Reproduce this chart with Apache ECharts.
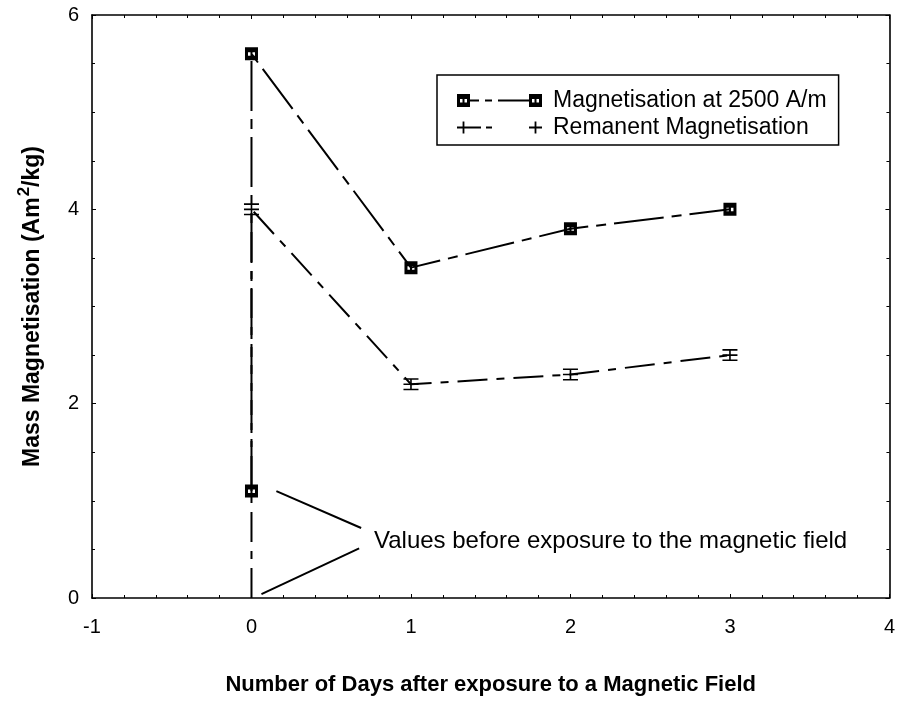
<!DOCTYPE html>
<html>
<head>
<meta charset="utf-8">
<script src="https://cdn.jsdelivr.net/npm/echarts@6/dist/echarts.min.js"></script>
<style>
  html, body { margin: 0; padding: 0; background: #fff; }
  #chart { width: 898px; height: 702px; }
</style>
</head>
<body>
<div id="chart"></div>
<script>
// Days after exposure; the first entry of each series is the value measured before exposure.
const days = [0, 0, 1, 2, 3];
const magAt2500 = [1.1, 5.6, 3.4, 3.8, 4.0];
const remanent = [0.0, 4.0, 2.2, 2.3, 2.5];

const xTicks = { min: -1, max: 4, interval: 1 };
const yTicks = { min: 0, max: 6, interval: 2 };

const magName = 'Magnetisation at 2500 A/m';
const remName = 'Remanent Magnetisation';
const noteText = 'Values before exposure to the magnetic field';

const FONT = '"Liberation Sans", Arial, Helvetica, sans-serif';

// Filled square with two small punched holes
const squareMark = 'path://M0,0H13V13H0Z M3,5V8.5H5.5V5Z M7.5,5V8.5H10V5Z';
// Plus sign with short error-bar caps above and below
const plusMark = 'path://M0,0H15V1.6H0Z M0,5.2H15V6.8H0Z M0,10.4H15V12H0Z M6.7,0H8.3V12H6.7Z';

// Legend keys: marker - dashes - marker
const magKey = 'path://M0,0H13V13H0Z M3,5V8.5H5.5V5Z M7.5,5V8.5H10V5Z ' +
  'M13,5.6H22V7.4H13Z M28,5.6H35V7.4H28Z M41,5.6H72V7.4H41Z ' +
  'M72,0H85V13H72Z M75,5V8.5H77.5V5Z M79.5,5V8.5H82V5Z';
const remKey = 'path://M0,5.6H24V7.4H0Z M5.6,0.5H7.4V12.5H5.6Z M29,5.6H35V7.4H29Z ' +
  'M72,5.6H85V7.4H72Z M77.6,0.5H79.4V12.5H77.6Z';

function pts(xs, ys) {
  return xs.map((x, i) => [x, ys[i]]);
}

const magData = pts(days, magAt2500);
const remData = pts(days, remanent).map((p, i) =>
  i === 0 ? { value: p, symbol: 'none' } : { value: p });

const axisCommon = {
  axisLine: { show: true, onZero: false, lineStyle: { color: '#000', width: 1.6 } },
  axisTick: { show: true, inside: true, length: 4, lineStyle: { color: '#000', width: 1 } },
  minorTick: { show: true, length: 3, lineStyle: { color: '#000', width: 1 } },
  splitLine: { show: false },
  minorSplitLine: { show: false }
};

const chart = echarts.init(document.getElementById('chart'), null, { renderer: 'canvas' });

chart.setOption({
  backgroundColor: '#fff',
  animation: false,
  textStyle: { fontFamily: FONT, color: '#000' },
  grid: { left: 92, right: 7, top: 15, bottom: 104, containLabel: false },
  legend: {
    orient: 'vertical',
    left: 437,
    top: 75,
    padding: [14, 12, 6, 20],
    itemGap: 4,
    itemWidth: 85,
    itemHeight: 13,
    borderColor: '#000',
    borderWidth: 1.5,
    backgroundColor: '#fff',
    textStyle: { fontSize: 23, color: '#000', fontFamily: FONT, padding: [0, 0, 0, 6] },
    itemStyle: { color: '#000', borderWidth: 0 },
    lineStyle: { opacity: 0 },
    data: [
      { name: magName, icon: magKey },
      { name: remName, icon: remKey }
    ]
  },
  xAxis: [
    Object.assign({
      type: 'value',
      position: 'bottom',
      min: xTicks.min, max: xTicks.max, interval: xTicks.interval,
      name: 'Number of Days after exposure to a Magnetic Field',
      nameLocation: 'middle',
      nameGap: 76,
      nameTextStyle: { fontSize: 22, fontWeight: 'bold', color: '#000', fontFamily: FONT },
      axisLabel: { fontSize: 20, color: '#000', margin: 19, fontFamily: FONT }
    }, axisCommon, { minorTick: Object.assign({}, axisCommon.minorTick, { splitNumber: 5 }) }),
    Object.assign({
      type: 'value',
      position: 'top',
      min: xTicks.min, max: xTicks.max, interval: xTicks.interval,
      axisLabel: { show: false }
    }, axisCommon, { minorTick: Object.assign({}, axisCommon.minorTick, { splitNumber: 5 }) })
  ],
  yAxis: [
    Object.assign({
      type: 'value',
      position: 'left',
      min: yTicks.min, max: yTicks.max, interval: yTicks.interval,
      name: '{a|Mass Magnetisation (Am}{s|2}{a|/kg)}',
      nameLocation: 'middle',
      nameGap: 48,
      nameTextStyle: {
        rich: {
          a: { fontSize: 23, fontWeight: 'bold', color: '#000', fontFamily: FONT, lineHeight: 28, verticalAlign: 'bottom' },
          s: { fontSize: 17, fontWeight: 'bold', color: '#000', fontFamily: FONT, lineHeight: 28, verticalAlign: 'top', padding: [0, 0, 0, 1] }
        }
      },
      axisLabel: { fontSize: 20, color: '#000', margin: 13, fontFamily: FONT }
    }, axisCommon, { minorTick: Object.assign({}, axisCommon.minorTick, { splitNumber: 4 }) }),
    Object.assign({
      type: 'value',
      position: 'right',
      min: yTicks.min, max: yTicks.max, interval: yTicks.interval,
      axisLabel: { show: false }
    }, axisCommon, { minorTick: Object.assign({}, axisCommon.minorTick, { splitNumber: 4 }) })
  ],
  series: [
    {
      name: magName,
      type: 'line',
      data: magData,
      symbol: squareMark,
      symbolSize: 13,
      showSymbol: true,
      itemStyle: { color: '#000' },
      lineStyle: { color: '#000', width: 2, type: [50, 8, 10, 8] },
      z: 3,
      markLine: {
        silent: true,
        symbol: ['none', 'none'],
        label: { show: false },
        lineStyle: { color: '#000', width: 2, type: 'solid' },
        data: [
          [{ coord: [0.156, 1.10] }, { coord: [0.6875, 0.72] }],
          [{ coord: [0.0625, 0.04] }, { coord: [0.675, 0.51] }]
        ]
      },
      markPoint: {
        silent: true,
        symbol: 'circle',
        symbolSize: 0,
        data: [{ coord: [0.768, 0.585], value: noteText }],
        label: {
          show: true,
          position: 'right',
          distance: 0,
          formatter: noteText,
          fontSize: 24,
          color: '#000',
          fontFamily: FONT
        }
      }
    },
    {
      name: remName,
      type: 'line',
      data: remData,
      symbol: plusMark,
      symbolSize: [15, 12],
      showSymbol: true,
      itemStyle: { color: '#000' },
      lineStyle: { color: '#000', width: 2, type: [30, 9, 8, 9] },
      z: 2
    }
  ]
});
</script>
</body>
</html>
